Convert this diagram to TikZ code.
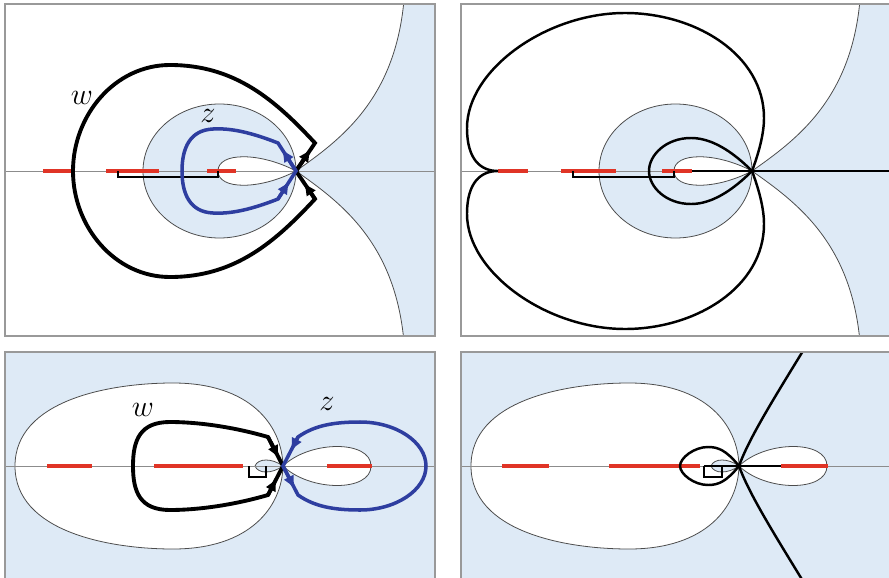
\documentclass[tikz,border=0pt]{standalone}
\usetikzlibrary{arrows.meta,calc}
\definecolor{sh}{RGB}{222,234,246}
\definecolor{cut}{RGB}{224,52,38}
\definecolor{zc}{RGB}{46,62,160}

% shared background of the two upper panels
\newcommand\topbase{%
  \fill[sh] (440,0) -- (404,0) .. controls (395,100) and (340,140) .. (296,171)
    .. controls (340,202) and (395,242) .. (404,342) -- (440,342) -- cycle;
  \draw[ol] (404,0) .. controls (395,100) and (340,140) .. (296,171)
    .. controls (340,202) and (395,242) .. (404,342);
  \filldraw[fill=sh,ol] (219.5,171) ellipse [x radius=76.5,y radius=67];
  \filldraw[fill=white,ol] (296,171) .. controls (260,152) and (218,152) .. (218,171)
    .. controls (218,190) and (260,190) .. (296,171) -- cycle;
  \draw[ax] (5,171) -- (440,171);
}
% shared background of the two lower panels
\newcommand\botbase{%
  \fill[sh] (5,352) rectangle (440,580);
  \filldraw[fill=white,ol] (283,466) .. controls (282,425) and (250,383) .. (173,383)
    .. controls (110,383) and (15,400) .. (15,466)
    .. controls (15,532) and (110,549) .. (173,549)
    .. controls (250,549) and (282,507) .. (283,466) -- cycle;
  \filldraw[fill=white,ol] (283,466) .. controls (310,440) and (371,440) .. (371,466)
    .. controls (371,492) and (310,492) .. (283,466) -- cycle;
  \filldraw[fill=sh,ol] (283,466) .. controls (272,458) and (258,458) .. (255,466)
    .. controls (258,474) and (272,474) .. (283,466) -- cycle;
  \draw[ax] (5,466) -- (440,466);
}

\begin{document}
\begin{tikzpicture}[x=0.02cm,y=-0.02cm,
  ol/.style={draw=black!70,line width=0.45pt},
  ax/.style={draw=black!45,line width=0.4pt},
  fr/.style={draw=black!40,line width=0.7pt},
  cutln/.style={cut,line width=2pt},
  cutthick/.style={cut,line width=2.8pt},
  brk/.style={black,line width=0.7pt},
  wline/.style={black,line width=2.2pt},
  zline/.style={zc,line width=2pt},
  bline/.style={black,line width=1.4pt},
  arrowhd/.style={-{Latex[length=2.7mm,width=2.3mm]}},
  lab/.style={font=\fontsize{18}{20}\selectfont,inner sep=0pt}]
\useasboundingbox (0,0) rectangle (889,578);

% upper left
\begin{scope}
  \clip (5,4) rectangle (435,336);
  \topbase
  \foreach \a/\b in {43/71,106/159,207/236} \draw[cutln] (\a,171) -- (\b,171);
  \draw[brk] (118,171) -- (118,177) -- (218,177) -- (218,171);
  \coordinate (c1) at (296,171);
  \coordinate (wu1) at (315,143);
  \coordinate (wl1) at (315,199);
  \coordinate (zu1) at (278,143);
  \coordinate (zl1) at (278,199);
  \draw[wline] (wl1) -- (c1) -- (wu1) .. controls (275,100) and (235,65) .. (170,65)
    .. controls (115,65) and (73,115) .. (73,171) .. controls (73,227) and (115,277) .. (170,277)
    .. controls (235,277) and (275,242) .. (wl1) -- cycle;
  \draw[wline,arrowhd] (c1) -- ($(c1)!0.8!(wu1)$);
  \draw[wline,arrowhd] (wl1) -- ($(wl1)!0.6!(c1)$);
  \draw[zline] (zl1) -- (c1) -- (zu1) .. controls (250,132) and (230,128) .. (213,129)
    .. controls (190,130) and (182,148) .. (182,171) .. controls (182,194) and (190,212) .. (213,213)
    .. controls (230,214) and (250,210) .. (zl1) -- cycle;
  \draw[zline,arrowhd] (c1) -- ($(c1)!0.8!(zu1)$);
  \draw[zline,arrowhd] (zl1) -- ($(zl1)!0.65!(c1)$);
  \node[lab] (w1) at (82,98) {$w$};
  \node[lab] (z1) at (208,116) {$z$};
\end{scope}
\draw[fr] (5,4) rectangle (435,336);

% upper right
\begin{scope}[shift={(456,0)}]
  \begin{scope}
    \clip (5,4) rectangle (435,336);
    \topbase
    \foreach \a/\b in {42/72,105/160,206/236} \draw[cutthick] (\a,171) -- (\b,171);
    \draw[brk] (117,171) -- (117,177) -- (218,177) -- (218,171);
    \coordinate (c2) at (296,171);
    \draw[bline] (c2) .. controls (302,155) and (308,135) .. (308,118)
      .. controls (308,55) and (240,13) .. (169,13) .. controls (90,13) and (11,70) .. (11,128)
      .. controls (11,160) and (25,171) .. (42,171) .. controls (25,171) and (11,182) .. (11,214)
      .. controls (11,272) and (90,329) .. (169,329) .. controls (240,329) and (308,287) .. (308,224)
      .. controls (308,207) and (302,187) .. (c2);
    \draw[bline] (c2) .. controls (270,145) and (250,138) .. (235,138)
      .. controls (210,138) and (193,155) .. (193,171) .. controls (193,187) and (210,204) .. (235,204)
      .. controls (250,204) and (270,197) .. (c2);
    \draw[bline] (236,171) -- (440,171);
  \end{scope}
  \draw[fr] (5,4) rectangle (435,336);
\end{scope}

% lower left
\begin{scope}
  \clip (5,352) rectangle (435,580);
  \botbase
  \foreach \a/\b in {47/92,154/243,327/372} \draw[cutln] (\a,466) -- (\b,466);
  \draw[brk,line width=1.1pt] (249,466) -- (249,477) -- (266,477) -- (266,466);
  \coordinate (c3) at (283,466);
  \coordinate (wu3) at (268,437);
  \coordinate (wl3) at (268,495);
  \coordinate (zu3) at (298,437);
  \coordinate (zl3) at (298,495);
  \draw[wline] (wu3) -- (c3) -- (wl3) .. controls (230,506) and (195,510) .. (170,510)
    .. controls (140,510) and (133,492) .. (133,466) .. controls (133,440) and (140,422) .. (170,422)
    .. controls (195,422) and (230,426) .. (wu3) -- cycle;
  \draw[wline,arrowhd] (wu3) -- ($(wu3)!0.75!(c3)$);
  \draw[wline,arrowhd] (wl3) -- ($(wl3)!0.6!(c3)$);
  \draw[zline] (zu3) -- (c3) -- (zl3) .. controls (315,507) and (335,510) .. (360,510)
    .. controls (396,510) and (426,490) .. (426,466) .. controls (426,442) and (396,422) .. (360,422)
    .. controls (335,422) and (315,425) .. (zu3) -- cycle;
  \draw[zline,arrowhd] (zu3) -- ($(zu3)!0.5!(c3)$);
  \draw[zline,arrowhd] (c3) -- ($(c3)!0.8!(zl3)$);
  \node[lab] (w3) at (143,410) {$w$};
  \node[lab] (z3) at (327,404) {$z$};
\end{scope}
\draw[fr] (5,580) -- (5,352) -- (435,352) -- (435,580);

% lower right
\begin{scope}[shift={(456,0)}]
  \begin{scope}
    \clip (5,352) rectangle (435,580);
    \botbase
    \foreach \a/\b in {46/93,153/244,325/372} \draw[cutthick] (\a,466) -- (\b,466);
    \draw[brk,line width=1.1pt] (248,466) -- (248,477) -- (266,477) -- (266,466);
    \coordinate (c4) at (283,466);
    \draw[bline] (c4) .. controls (270,450) and (262,447) .. (252,447)
      .. controls (238,447) and (224,458) .. (224,466) .. controls (224,474) and (238,485) .. (252,485)
      .. controls (262,485) and (270,482) .. (c4);
    \draw[bline] (248,466) -- (325,466);
    \draw[bline] (350,346) .. controls (320,395) and (293,438) .. (c4)
      .. controls (293,494) and (320,537) .. (350,586);
  \end{scope}
  \draw[fr] (5,580) -- (5,352) -- (435,352) -- (435,580);
\end{scope}
\end{tikzpicture}
\end{document}
